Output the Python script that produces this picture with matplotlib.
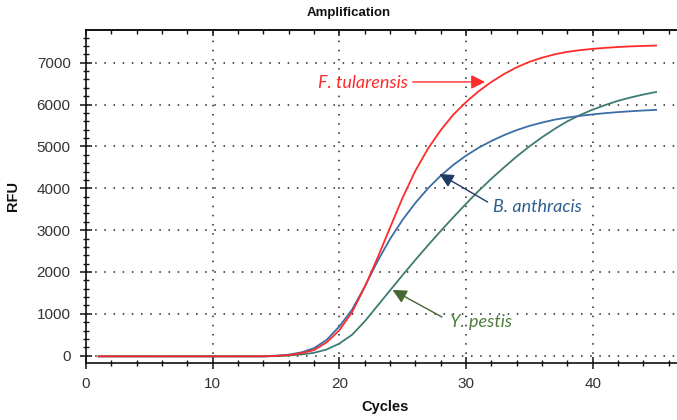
import numpy as np
import matplotlib
matplotlib.use("Agg")
import matplotlib.pyplot as plt
from matplotlib.ticker import MultipleLocator

cycles = list(range(1, 46))

f_tularensis = [-15]*14 + [-5, 15, 60, 135, 320, 610, 1040, 1640, 2330, 3060, 3780, 4420,
                          4950, 5390, 5760, 6060, 6320, 6540, 6730, 6890, 7020, 7120, 7200,
                          7260, 7300, 7330, 7355, 7375, 7390, 7400, 7410]
b_anthracis = [-15]*14 + [0, 25, 80, 180, 380, 700, 1100, 1650, 2250, 2790, 3250, 3650,
                         4000, 4300, 4560, 4780, 4970, 5130, 5270, 5390, 5490, 5570, 5640,
                         5690, 5730, 5765, 5795, 5820, 5840, 5858, 5872]
y_pestis = [-15]*14 + [-10, 5, 30, 70, 150, 290, 500, 820, 1190, 1560, 1930, 2290,
                      2640, 2980, 3310, 3630, 3940, 4230, 4500, 4760, 5000, 5220, 5420,
                      5600, 5750, 5880, 5990, 6090, 6170, 6240, 6300]

x_ticks = [0, 10, 20, 30, 40]
y_ticks = [0, 1000, 2000, 3000, 4000, 5000, 6000, 7000]

red = "#FF2B2B"
blue = "#3B6EA5"
green = "#3E7B72"

fig = plt.figure(figsize=(6.77, 4.20), dpi=100)
ax = fig.add_axes([86/677, 1-363/420, 1-86/677, (363-30)/420])

ax.plot(cycles, y_pestis, color=green, lw=1.3, zorder=3)
ax.plot(cycles, b_anthracis, color=blue, lw=1.3, zorder=3)
ax.plot(cycles, f_tularensis, color=red, lw=1.3, zorder=4)

ax.set_xlim(0, 46.65)
ax.set_ylim(-174, 7781)
ax.set_xticks(x_ticks)
ax.set_yticks(y_ticks)
ax.xaxis.set_minor_locator(MultipleLocator(2))
ax.yaxis.set_minor_locator(MultipleLocator(200))

ax.grid(True, which="major", color="#222222", linestyle=(0, (1, 5)), linewidth=1.1)

ax.spines["right"].set_visible(False)
for s in ["left", "bottom", "top"]:
    ax.spines[s].set_linewidth(1.2)
    ax.spines[s].set_color("#111111")

ax.tick_params(axis="both", which="major", direction="inout", length=8, width=1.1,
               color="#111111", labelsize=11, labelcolor="#333333")
ax.tick_params(axis="both", which="minor", direction="inout", length=5, width=1.0,
               color="#111111")
ax.tick_params(axis="x", which="major", pad=6)
ax.tick_params(axis="y", which="major", pad=7)
for lab in ax.get_xticklabels() + ax.get_yticklabels():
    lab.set_family("Liberation Sans")

top = ax.secondary_xaxis("top")
top.set_xticks(x_ticks)
top.xaxis.set_minor_locator(MultipleLocator(2))
top.tick_params(which="major", direction="in", length=4.5, width=1.1, color="#111111",
                labeltop=False)
top.tick_params(which="minor", direction="in", length=3, width=1.0, color="#111111")
top.spines["top"].set_linewidth(1.2)
top.spines["top"].set_color("#111111")

fig.text(349/677, 1-13/420, "Amplification", ha="center", va="center",
         fontsize=9.5, fontweight="bold", family="Liberation Sans", color="#111111")
fig.text(385/677, 1-407/420, "Cycles", ha="center", va="center",
         fontsize=10.5, fontweight="bold", family="Liberation Sans", color="#111111")
fig.text(13/677, 1-196/420, "RFU", ha="center", va="center", rotation=90,
         fontsize=10.5, fontweight="bold", family="Liberation Sans", color="#111111")

lab_font = dict(family="Lato", style="italic", fontsize=13, va="center", ha="left")
ax.text(18.3, 6515, "F. tularensis", color=red, **lab_font)
ax.text(32.1, 3560, "B. anthracis", color="#2E5F8E", **lab_font)
ax.text(28.7, 805, "Y. pestis", color="#4E7D3A", **lab_font)

def arrow(tail, tip, col):
    ax.annotate("", xy=tip, xytext=tail,
                arrowprops=dict(arrowstyle="-|>,head_length=0.7,head_width=0.35",
                                color=col, lw=1.0, mutation_scale=12,
                                shrinkA=0, shrinkB=0), zorder=5)

arrow((25.8, 6540), (31.5, 6540), red)
arrow((31.7, 3672), (27.9, 4341), "#1F3A63")
arrow((28.1, 924), (24.2, 1570), "#46652F")

fig.savefig("out.png", dpi=100)
